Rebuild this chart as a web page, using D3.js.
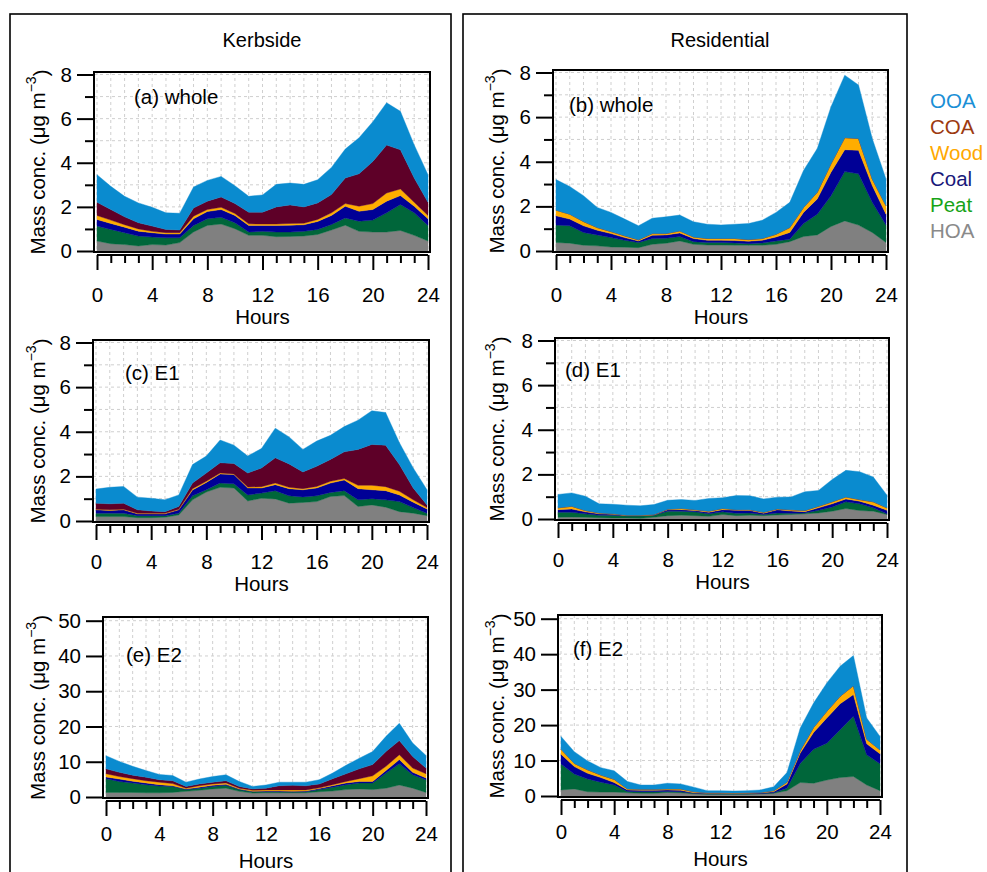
<!DOCTYPE html>
<html><head><meta charset="utf-8">
<script src="https://cdn.jsdelivr.net/npm/d3@7"></script>
<style>
body{margin:0;background:#fff}
text{font-family:"Liberation Sans",Arial,sans-serif;fill:#000}
</style>
</head><body>
<svg id="c" width="987" height="872"></svg>
<script>
// ---------- DATA ----------
const hours = [0,1,2,3,4,5,6,7,8,9,10,11,12,13,14,15,16,17,18,19,20,21,22,23,24];
const factors = ["HOA","Peat","Coal","Wood","COA","OOA"]; // stacking order, bottom to top
const legendOrder = ["OOA","COA","Wood","Coal","Peat","HOA"];
const xTickLabels = [0,4,8,12,16,20,24];
const yTicksSmall = [0,2,4,6,8];
const yTicksLarge = [0,10,20,30,40,50];

// (a) Kerbside whole
const a_HOA  = [0.45,0.33,0.29,0.23,0.29,0.27,0.38,0.86,1.16,1.22,1.01,0.71,0.71,0.65,0.66,0.68,0.75,0.95,1.17,0.89,0.86,0.86,0.93,0.71,0.45];
const a_Peat = [0.68,0.65,0.54,0.45,0.34,0.33,0.22,0.30,0.30,0.31,0.27,0.15,0.18,0.21,0.20,0.21,0.23,0.25,0.33,0.46,0.54,0.87,1.18,1.02,0.71];
const a_Coal = [0.30,0.27,0.25,0.22,0.20,0.17,0.17,0.30,0.33,0.35,0.33,0.30,0.27,0.30,0.31,0.30,0.36,0.41,0.53,0.45,0.48,0.53,0.40,0.30,0.30];
const a_Wood = [0.18,0.15,0.11,0.10,0.06,0.06,0.06,0.12,0.09,0.10,0.09,0.07,0.06,0.06,0.08,0.07,0.09,0.12,0.12,0.23,0.27,0.37,0.30,0.18,0.15];
const a_COA  = [0.60,0.48,0.36,0.28,0.24,0.15,0.12,0.37,0.38,0.47,0.45,0.53,0.54,0.78,0.84,0.74,0.75,0.83,1.16,1.47,1.91,2.17,1.78,1.10,0.60];
const a_OOA  = [1.25,1.05,0.93,0.90,0.85,0.75,0.76,0.95,0.94,0.93,0.81,0.72,0.78,1.02,0.99,1.02,1.05,1.23,1.31,1.63,1.80,1.92,1.74,1.50,1.25];

// (b) Residential whole
const b_HOA  = [0.38,0.35,0.26,0.23,0.18,0.17,0.15,0.30,0.35,0.45,0.30,0.27,0.27,0.26,0.26,0.26,0.30,0.42,0.65,0.72,1.10,1.35,1.16,0.83,0.38];
const b_Peat = [0.78,0.78,0.57,0.49,0.42,0.31,0.23,0.26,0.22,0.20,0.12,0.11,0.11,0.10,0.07,0.10,0.15,0.11,0.58,0.93,1.38,2.21,2.30,1.35,0.78];
const b_Coal = [0.42,0.30,0.30,0.21,0.18,0.12,0.07,0.15,0.15,0.16,0.14,0.10,0.10,0.11,0.11,0.12,0.18,0.30,0.50,0.68,1.05,0.98,1.05,0.75,0.49];
const b_Wood = [0.25,0.22,0.19,0.12,0.09,0.08,0.05,0.07,0.06,0.09,0.07,0.08,0.08,0.09,0.07,0.08,0.12,0.22,0.22,0.30,0.38,0.54,0.53,0.30,0.38];
const b_COA  = [0,0,0,0,0,0,0,0,0,0,0,0,0,0,0,0,0,0,0,0,0,0,0,0,0];
const b_OOA  = [1.37,1.24,1.16,0.90,0.86,0.75,0.63,0.69,0.75,0.71,0.68,0.64,0.61,0.64,0.72,0.82,0.98,1.13,1.66,1.96,2.56,2.80,2.40,1.81,1.20];

// (c) Kerbside E1
const c_HOA  = [0.20,0.20,0.20,0.15,0.15,0.17,0.27,0.95,1.30,1.51,1.48,0.90,1.02,0.99,0.80,0.83,0.87,1.10,1.14,0.65,0.72,0.62,0.42,0.35,0.24];
const c_Peat = [0.15,0.15,0.15,0.09,0.09,0.07,0.08,0.18,0.10,0.19,0.19,0.27,0.23,0.37,0.33,0.25,0.26,0.18,0.22,0.30,0.28,0.33,0.45,0.25,0.11];
const c_Coal = [0.15,0.12,0.15,0.08,0.08,0.08,0.15,0.26,0.33,0.41,0.41,0.31,0.23,0.27,0.32,0.32,0.35,0.42,0.48,0.50,0.40,0.41,0.30,0.24,0.19];
const c_Wood = [0.03,0.03,0.03,0.03,0.03,0.03,0.03,0.06,0.05,0.04,0.03,0.04,0.06,0.07,0.06,0.05,0.07,0.08,0.06,0.15,0.20,0.18,0.16,0.11,0.06];
const c_COA  = [0.27,0.27,0.27,0.15,0.10,0.07,0.12,0.25,0.37,0.46,0.47,0.63,0.84,1.13,1.05,0.75,0.90,0.98,1.20,1.61,1.83,1.86,1.20,0.53,0.12];
const c_OOA  = [0.63,0.74,0.75,0.57,0.57,0.53,0.52,0.83,0.76,1.02,0.82,0.76,0.87,1.33,1.21,1.01,1.13,1.08,1.13,1.31,1.51,1.46,0.98,0.90,0.68];

// (d) Residential E1
const d_HOA  = [0.08,0.09,0.08,0.06,0.05,0.05,0.03,0.08,0.15,0.17,0.15,0.12,0.20,0.15,0.17,0.15,0.18,0.20,0.23,0.27,0.35,0.47,0.38,0.35,0.20];
const d_Peat = [0.22,0.21,0.15,0.11,0.12,0.09,0.11,0.09,0.20,0.18,0.17,0.11,0.12,0.11,0.10,0.05,0.09,0.06,0.04,0.12,0.19,0.30,0.30,0.15,0.03];
const d_Coal = [0.12,0.15,0.09,0.06,0.04,0.01,0.01,0.01,0.06,0.07,0.06,0.07,0.10,0.13,0.11,0.06,0.14,0.10,0.06,0.11,0.14,0.13,0.12,0.12,0.16];
const d_Wood = [0.08,0.12,0.06,0.04,0.03,0.02,0.02,0.02,0.03,0.05,0.04,0.05,0.05,0.03,0.03,0.04,0.04,0.05,0.05,0.07,0.09,0.09,0.07,0.15,0.11];
const d_COA  = [0,0,0,0,0,0,0,0,0,0,0,0,0,0,0,0,0,0,0,0,0,0,0,0,0];
const d_OOA  = [0.60,0.60,0.64,0.41,0.42,0.45,0.42,0.45,0.40,0.40,0.41,0.57,0.48,0.63,0.63,0.60,0.53,0.58,0.84,0.71,1.00,1.19,1.25,1.11,0.57];

// (e) Kerbside E2
const e_HOA  = [1.3,1.3,1.3,1.2,1.2,1.3,1.6,1.9,2.3,2.5,1.6,1.1,1.2,1.2,1.2,1.2,1.5,1.7,2.1,2.3,2.1,2.5,3.4,2.5,1.3];
const e_Peat = [3.9,3.1,2.7,2.3,1.9,1.7,0.5,0.6,0.7,0.8,0.5,0.4,0.3,0.3,0.2,0.3,0.6,1.1,1.4,1.7,1.9,4.3,6.0,3.8,3.6];
const e_Coal = [0.5,0.7,0.5,0.5,0.4,0.2,0.2,0.3,0.3,0.3,0.2,0.1,0.2,0.2,0.2,0.2,0.3,0.4,0.5,0.4,0.4,0.7,1.2,0.7,0.5];
const e_Wood = [0.9,0.7,0.7,0.6,0.7,0.6,0.2,0.4,0.4,0.4,0.2,0.3,0.3,0.3,0.4,0.3,0.2,0.3,0.4,0.8,1.6,1.2,1.4,1.2,1.2];
const e_COA  = [1.4,1.2,1.0,1.0,0.7,0.8,0.5,0.5,0.5,0.6,0.5,0.4,0.5,1.2,1.3,1.2,1.1,1.7,2.2,2.8,3.2,4.2,4.0,3.3,1.6];
const e_OOA  = [3.7,3.1,2.5,1.9,1.5,1.5,1.2,1.4,1.6,1.7,1.4,0.7,0.9,1.0,0.9,1.0,1.2,1.6,2.4,3.0,3.7,4.3,4.9,3.8,3.6];

// (f) Residential E2
const f_HOA  = [1.7,2.0,1.2,1.1,1.1,0.9,0.75,0.75,1.0,0.9,0.6,0.5,0.5,0.5,0.5,0.6,0.75,1.5,3.8,3.6,4.5,5.2,5.5,3.1,1.5];
const f_Peat = [7.3,4.2,3.6,2.8,2.0,0.4,0.45,0.45,0.3,0.3,0.15,0.1,0.1,0.1,0.1,0.1,0.15,0.7,5.4,9.6,10.4,13.5,17.0,8.5,7.6];
const f_Coal = [2.8,2.1,1.6,1.3,0.7,0.4,0.4,0.4,0.4,0.4,0.15,0.15,0.15,0.1,0.15,0.15,0.3,1.2,2.9,4.7,7.1,7.3,6.1,3.1,2.8];
const f_Wood = [1.4,0.9,1.0,0.7,0.9,0.3,0.3,0.3,0.3,0.4,0.3,0.15,0.15,0.15,0.15,0.15,0.3,0.5,0.7,1.4,1.9,2.1,2.5,1.3,1.1];
const f_COA  = [0,0,0,0,0,0,0,0,0,0,0,0,0,0,0,0,0,0,0,0,0,0,0,0,0];
const f_OOA  = [3.6,3.3,2.5,2.1,2.4,2.1,1.2,1.2,1.6,1.4,1.3,0.6,0.6,0.55,0.6,0.7,1.1,2.7,6.4,6.9,8.0,8.5,8.5,6.0,3.8];

// ---------- STYLE / LAYOUT ----------
const fillColor = {OOA:"#0a8bcf", COA:"#5e0028", Wood:"#ffad00", Coal:"#000096", Peat:"#00663a", HOA:"#808080"};
const legendColor = {OOA:"#1a8fd6", COA:"#9c3a10", Wood:"#ffa800", Coal:"#18187a", Peat:"#17a317", HOA:"#8a8a8a"};
const FS = 20.5;

const panels = [
  {label:"(a) whole", s:{HOA:a_HOA,Peat:a_Peat,Coal:a_Coal,Wood:a_Wood,COA:a_COA,OOA:a_OOA}, L:94, R:430, T:72, B:252, yMax:8, yTicks:yTicksSmall, minor:true, lx:134, ly:96, tl:294, hl:316, col:0},
  {label:"(b) whole", s:{HOA:b_HOA,Peat:b_Peat,Coal:b_Coal,Wood:b_Wood,COA:b_COA,OOA:b_OOA}, L:553, R:888, T:70, B:252, yMax:8, yTicks:yTicksSmall, minor:true, lx:569, ly:104, tl:294, hl:316, col:1},
  {label:"(c) E1", s:{HOA:c_HOA,Peat:c_Peat,Coal:c_Coal,Wood:c_Wood,COA:c_COA,OOA:c_OOA}, L:93, R:429, T:340, B:522, yMax:8, yTicks:yTicksSmall, minor:true, lx:125, ly:372, tl:561, hl:583, col:0},
  {label:"(d) E1", s:{HOA:d_HOA,Peat:d_Peat,Coal:d_Coal,Wood:d_Wood,COA:d_COA,OOA:d_OOA}, L:555, R:889, T:338, B:520, yMax:8, yTicks:yTicksSmall, minor:true, lx:565, ly:369, tl:559, hl:581, col:1},
  {label:"(e) E2", s:{HOA:e_HOA,Peat:e_Peat,Coal:e_Coal,Wood:e_Wood,COA:e_COA,OOA:e_OOA}, L:103, R:428, T:617, B:798, yMax:50, yTicks:yTicksLarge, minor:false, lx:126, ly:654, tl:833, hl:860, col:0},
  {label:"(f) E2", s:{HOA:f_HOA,Peat:f_Peat,Coal:f_Coal,Wood:f_Wood,COA:f_COA,OOA:f_OOA}, L:558, R:882, T:615, B:797, yMax:50, yTicks:yTicksLarge, minor:false, lx:573, ly:648, tl:831, hl:858, col:1}
];

const svg = d3.select("#c");

// outer boxes
svg.append("rect").attr("x",10).attr("y",14).attr("width",441).attr("height",880)
  .attr("fill","none").attr("stroke","#000").attr("stroke-width",1.6);
svg.append("rect").attr("x",463).attr("y",14).attr("width",444).attr("height",880)
  .attr("fill","none").attr("stroke","#000").attr("stroke-width",1.6);
svg.append("text").attr("x",262).attr("y",40).attr("text-anchor","middle").attr("dominant-baseline","central")
  .style("font-size","20px").text("Kerbside");
svg.append("text").attr("x",720).attr("y",40).attr("text-anchor","middle").attr("dominant-baseline","central")
  .style("font-size","20px").text("Residential");

// legend
legendOrder.forEach((k,i)=>{
  svg.append("text").attr("x",930).attr("y",100+i*26).attr("dominant-baseline","central")
    .style("font-size",FS+"px").style("fill",legendColor[k]).text(k);
});

panels.forEach((p,pi)=>{
  const x = d3.scaleLinear().domain([0,24]).range([p.L+3, p.R-2]);
  const y = d3.scaleLinear().domain([0,p.yMax]).range([p.B-1, p.T+ (p.yMax===8?2.5:3.7)]);
  const g = svg.append("g");

  const rows = hours.map((h,i)=>{
    const r = {hour:h};
    factors.forEach(k=>r[k]=p.s[k][i]);
    return r;
  });
  const stacked = d3.stack().keys(factors)(rows);

  // grid
  const grid = g.append("g").attr("stroke","#cfcfcf").attr("stroke-width",1).attr("stroke-dasharray","3,3");
  hours.forEach(h=>{
    grid.append("line").attr("x1",x(h)).attr("x2",x(h)).attr("y1",p.T).attr("y2",p.B);
  });
  const gstep = p.yMax===8?1:10;
  d3.range(gstep, p.yMax+0.001, gstep).forEach(v=>{
    grid.append("line").attr("x1",p.L).attr("x2",p.R).attr("y1",y(v)).attr("y2",y(v));
  });

  // clip
  const cid = "clip"+pi;
  g.append("clipPath").attr("id",cid).append("rect")
    .attr("x",p.L).attr("y",p.T).attr("width",p.R-p.L).attr("height",p.B-p.T);

  const area = d3.area().x(d=>x(d.data.hour)).y0(d=>y(d[0])).y1(d=>y(d[1]));
  g.append("g").attr("clip-path",`url(#${cid})`)
    .selectAll("path").data(stacked).join("path")
    .attr("d",area)
    .attr("fill",d=>fillColor[d.key])
    .attr("stroke",d=>fillColor[d.key]).attr("stroke-width",0.4);

  // frame
  g.append("rect").attr("x",p.L).attr("y",p.T).attr("width",p.R-p.L).attr("height",p.B-p.T)
    .attr("fill","none").attr("stroke","#000").attr("stroke-width",2);

  // y axis
  const yAx = g.append("g").attr("transform",`translate(${p.L},0)`)
    .call(d3.axisLeft(y).tickValues(p.yTicks).tickSize(17).tickPadding(5).tickFormat(d3.format("d")));
  yAx.select(".domain").remove();
  yAx.selectAll("line").attr("stroke-width",2);
  yAx.selectAll("text").style("font-size",FS+"px").style("font-family","'Liberation Sans',Arial,sans-serif");
  if(p.minor){
    const yMin = g.append("g").attr("transform",`translate(${p.L},0)`)
      .call(d3.axisLeft(y).tickValues([1,3,5,7]).tickSize(9).tickFormat(""));
    yMin.select(".domain").remove();
    yMin.selectAll("line").attr("stroke-width",2);
  }

  // x axis (offset below the frame)
  const xb = p.B+3;
  const xAx = g.append("g").attr("transform",`translate(0,${xb})`)
    .call(d3.axisBottom(x).tickValues(xTickLabels).tickSize(15).tickPadding(0).tickFormat(d3.format("d")));
  xAx.select(".domain").attr("stroke-width",2).attr("d",`M${x(0)},0H${x(24)}`);
  xAx.selectAll("line").attr("stroke-width",2);
  xAx.selectAll("text").attr("y",p.tl-xb).attr("dy",null).attr("dominant-baseline","central")
    .style("font-size",FS+"px").style("font-family","'Liberation Sans',Arial,sans-serif");
  const xMin = g.append("g").attr("transform",`translate(0,${xb})`)
    .call(d3.axisBottom(x).tickValues(hours.filter(h=>h%4!==0)).tickSize(8).tickFormat(""));
  xMin.select(".domain").remove();
  xMin.selectAll("line").attr("stroke-width",2);

  // axis titles
  g.append("text").attr("x",(x(0)+x(24))/2).attr("y",p.hl).attr("text-anchor","middle")
    .attr("dominant-baseline","central").style("font-size",FS+"px").text("Hours");
  const yl = g.append("text")
    .attr("transform",`translate(${p.col===0?37:496},${(p.T+p.B)/2}) rotate(-90)`)
    .attr("text-anchor","middle").attr("dominant-baseline","central").style("font-size",FS+"px");
  yl.append("tspan").text("Mass conc. (\u03bcg m");
  yl.append("tspan").attr("dy","-0.45em").style("font-size","14px").text("\u22123");
  yl.append("tspan").attr("dy","0.45em").text(")");

  // panel label
  g.append("text").attr("x",p.lx).attr("y",p.ly).attr("dominant-baseline","central")
    .style("font-size",FS+"px").text(p.label);
});
</script>
</body></html>
